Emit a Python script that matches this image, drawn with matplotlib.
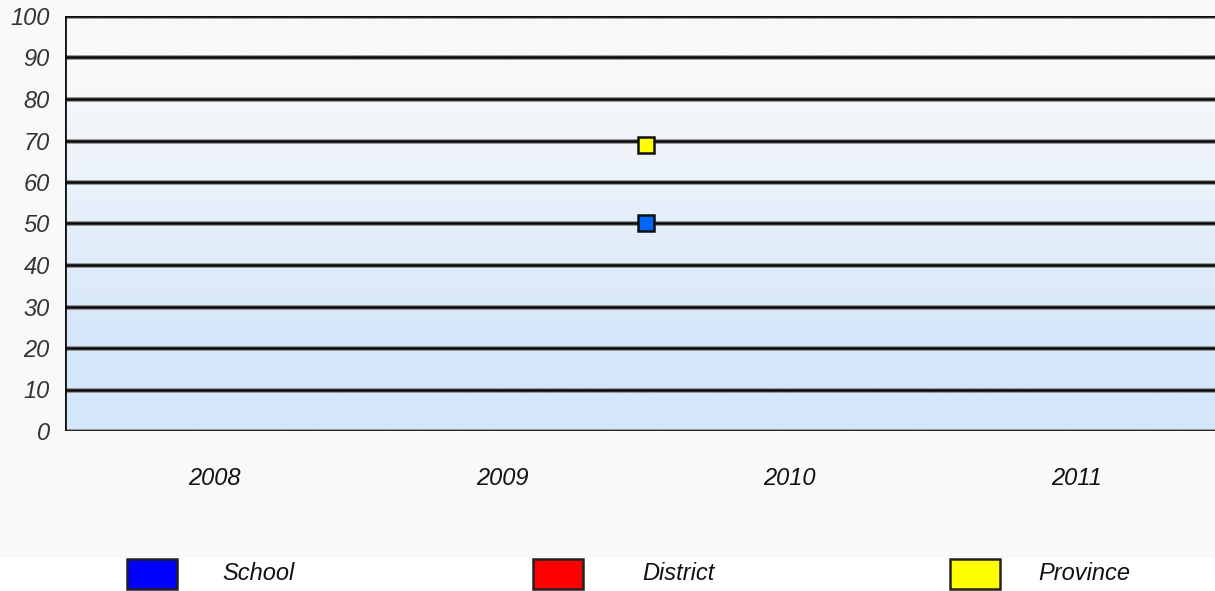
import numpy as np
import matplotlib
matplotlib.use("Agg")
import matplotlib.pyplot as plt
from matplotlib.patches import Rectangle
import matplotlib.patheffects as pe

years = ["2008", "2009", "2010", "2011"]
yticks = list(range(0, 101, 10))

# single data point sits between the 2009 and 2010 slots
point_pos = [1.5]
school = [50]
district = []
province = [69]

series = [("School", school, "#0000ff", "#0066ff"),
          ("District", district, "#ff0000", "#ff0000"),
          ("Province", province, "#ffff00", "#ffff00")]

plt.rcParams["font.family"] = ["Liberation Sans", "DejaVu Sans"]

W, H = 1215, 591
fig = plt.figure(figsize=(W / 100, H / 100), dpi=100)
fig.patch.set_facecolor("white")
# light grey panel behind the chart, white strip for the legend
fig.add_artist(Rectangle((0, 1 - 558 / H), 1, 558 / H, transform=fig.transFigure,
                         facecolor="#f8f9f9", edgecolor="none", zorder=0))

ax = fig.add_axes([65 / W, 1 - 431 / H, 1 - 65 / W, 415 / H])
ax.set_xlim(-0.52, 3.48)
ax.set_ylim(0, 100)

# vertical gradient: near white above 80, light blue below 20
top = np.array([0xf8, 0xf9, 0xf9]) / 255
bot = np.array([0xd4, 0xe6, 0xfa]) / 255
yv = np.linspace(100, 0, 400)
t = np.interp(yv, [0, 20, 85, 100], [1, 1, 0, 0])[:, None]
grad = (top * (1 - t) + bot * t)[:, None, :]
ax.imshow(grad, extent=(-0.52, 3.48, 0, 100), aspect="auto", zorder=0,
          origin="upper", interpolation="bilinear")

halo = [pe.Stroke(linewidth=3.4, foreground="#8c8c8c"), pe.Normal()]
for y in yticks:
    ax.axhline(y, color="#0a0a0a", lw=1.8, zorder=1, path_effects=halo)

for s in ax.spines.values():
    s.set_visible(False)
ax.axvline(-0.52, color="#111111", lw=2, zorder=2)

for name, vals, swatch, mk in series:
    if vals:
        ax.plot(point_pos[:len(vals)], vals, ls="none", marker="s", ms=12,
                mfc=mk, mec="#111111", mew=1.8, zorder=3)

ax.set_yticks(yticks)
ax.set_yticklabels([str(v) for v in yticks], fontsize=17, style="italic",
                   color="#333333")
ax.set_xticks(range(len(years)))
ax.set_xticklabels(years, fontsize=17, style="italic", color="#111111")
ax.tick_params(axis="y", length=0, pad=11)
ax.tick_params(axis="x", length=0, pad=26)

# legend row along the bottom
sw_x = [127, 533, 950]
lab_x = [222, 642, 1038]
for (name, vals, swatch, mk), sx, lx in zip(series, sw_x, lab_x):
    fig.add_artist(Rectangle((sx / W, 1 - 589 / H), 50 / W, 30 / H,
                             transform=fig.transFigure, facecolor=swatch,
                             edgecolor="#222222", lw=1.8, zorder=3))
    fig.text(lx / W, 1 - 574 / H, name, fontsize=17, style="italic",
             color="#111111", va="center", ha="left")

fig.savefig("out.png", dpi=100)
